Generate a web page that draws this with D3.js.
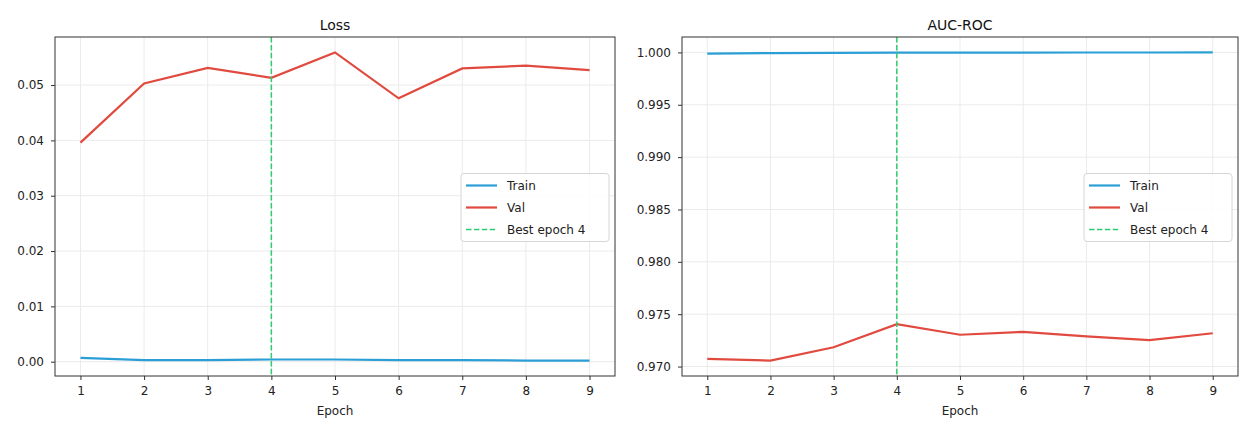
<!DOCTYPE html>
<html>
<head>
<meta charset="utf-8">
<script src="https://cdn.jsdelivr.net/npm/d3@7"></script>
<style>
  body { margin: 0; background: #fff; }
  svg { display: block; font-family: "DejaVu Sans", sans-serif; }
</style>
</head>
<body>
<div id="chart"></div>
<script>
'use strict';

// data
var epochs = [1, 2, 3, 4, 5, 6, 7, 8, 9];
var bestEpoch = 4;

var lossTrain = [0.0007, 0.0003, 0.0003, 0.0004, 0.0004, 0.0003, 0.0003, 0.0002, 0.0002];
var lossVal = [0.0396, 0.0503, 0.0531, 0.0513, 0.0559, 0.0476, 0.0530, 0.0535, 0.0527];
var lossTicks = [0.00, 0.01, 0.02, 0.03, 0.04, 0.05];

var aucTrain = [0.99988, 0.99994, 0.99996, 0.99997, 0.99998, 0.99998, 0.99999, 0.99999, 1.0];
var aucVal = [0.97073, 0.97057, 0.97184, 0.97405, 0.97304, 0.97332, 0.97288, 0.97253, 0.97318];
var aucTicks = [0.970, 0.975, 0.980, 0.985, 0.990, 0.995, 1.000];

var legendLabels = ['Train', 'Val', 'Best epoch ' + bestEpoch];

var W = 1239, H = 421;
var colTrain = '#2b9fd5', colVal = '#e04a3f', colBest = '#2ecc71';

var svg = d3.select('#chart').append('svg')
  .attr('width', W)
  .attr('height', H);

// matplotlib style 5% margins
function padded(ext, frac) {
  var r = ext[1] - ext[0];
  return [ext[0] - r * frac, ext[1] + r * frac];
}

function drawPanel(o) {
  var x = d3.scaleLinear()
    .domain(padded(d3.extent(epochs), 0.05))
    .range([o.left, o.right]);
  var y = d3.scaleLinear()
    .domain(padded(d3.extent(o.train.concat(o.val)), 0.05))
    .range([o.bottom, o.top]);

  var g = svg.append('g');

  // grid
  g.append('g').selectAll('line.gx')
    .data(epochs).enter().append('line')
      .attr('x1', function (d) { return x(d); })
      .attr('x2', function (d) { return x(d); })
      .attr('y1', o.top).attr('y2', o.bottom)
      .style('stroke', '#ebebeb').style('stroke-width', 1);
  g.append('g').selectAll('line.gy')
    .data(o.ticks).enter().append('line')
      .attr('x1', o.left).attr('x2', o.right)
      .attr('y1', function (d) { return y(d); })
      .attr('y2', function (d) { return y(d); })
      .style('stroke', '#ebebeb').style('stroke-width', 1);

  var line = function (vals) {
    return d3.line()
      .x(function (d, i) { return x(epochs[i]); })
      .y(function (d) { return y(d); })(vals);
  };

  g.append('path').attr('d', line(o.train))
    .style('fill', 'none').style('stroke', colTrain).style('stroke-width', 2.2);
  g.append('path').attr('d', line(o.val))
    .style('fill', 'none').style('stroke', colVal).style('stroke-width', 2.2);

  g.append('line')
    .attr('x1', x(bestEpoch)).attr('x2', x(bestEpoch))
    .attr('y1', o.top).attr('y2', o.bottom)
    .style('stroke', colBest).style('stroke-width', 1.5)
    .style('stroke-dasharray', '5.5,2.4');

  // axes
  var xAxis = d3.axisBottom(x).tickValues(epochs).tickSize(4).tickPadding(6)
    .tickFormat(d3.format('d'));
  var yAxis = d3.axisLeft(y).tickValues(o.ticks).tickSize(4).tickPadding(7)
    .tickFormat(d3.format(o.fmt));

  var gx = g.append('g').attr('transform', 'translate(0,' + o.bottom + ')').call(xAxis);
  var gy = g.append('g').attr('transform', 'translate(' + o.left + ',0)').call(yAxis);
  [gx, gy].forEach(function (a) {
    a.select('.domain').remove();
    a.selectAll('line').style('stroke', '#333');
    a.selectAll('text').style('font-size', '12px').style('fill', '#222')
      .style('font-family', '"DejaVu Sans", sans-serif');
  });

  // frame
  g.append('rect')
    .attr('x', o.left).attr('y', o.top)
    .attr('width', o.right - o.left).attr('height', o.bottom - o.top)
    .style('fill', 'none').style('stroke', '#333').style('stroke-width', 1);

  g.append('text')
    .attr('x', (o.left + o.right) / 2).attr('y', o.top - 7)
    .style('text-anchor', 'middle').style('font-size', '14px').style('fill', '#111')
    .text(o.title);

  g.append('text')
    .attr('x', (o.left + o.right) / 2).attr('y', 415)
    .style('text-anchor', 'middle').style('font-size', '12px').style('fill', '#222')
    .text('Epoch');

  // legend, center right
  var lw = 148, lh = 68;
  var lx = o.right - 6 - lw, ly = (o.top + o.bottom) / 2 - lh / 2 + 1;
  var leg = g.append('g').attr('transform', 'translate(' + lx + ',' + ly + ')');
  leg.append('rect')
    .attr('width', lw).attr('height', lh).attr('rx', 3)
    .style('fill', 'rgba(255,255,255,0.85)').style('stroke', '#d6d6d6');
  var cols = [colTrain, colVal, colBest];
  var items = leg.selectAll('g.item').data(legendLabels).enter().append('g')
    .attr('transform', function (d, i) { return 'translate(0,' + (12 + i * 22) + ')'; });
  items.append('line')
    .attr('x1', 5).attr('x2', 36).attr('y1', 0).attr('y2', 0)
    .style('stroke', function (d, i) { return cols[i]; })
    .style('stroke-width', function (d, i) { return i === 2 ? 1.5 : 2.2; })
    .style('stroke-dasharray', function (d, i) { return i === 2 ? '5.5,2.4' : null; });
  items.append('text')
    .attr('x', 46).attr('y', 4.5)
    .style('font-size', '12px').style('fill', '#222')
    .text(function (d) { return d; });
}

drawPanel({ title: 'Loss', left: 55, right: 615, top: 37, bottom: 376,
  train: lossTrain, val: lossVal, ticks: lossTicks, fmt: '.2f' });
drawPanel({ title: 'AUC-ROC', left: 682, right: 1238, top: 37, bottom: 376,
  train: aucTrain, val: aucVal, ticks: aucTicks, fmt: '.3f' });
</script>
</body>
</html>
